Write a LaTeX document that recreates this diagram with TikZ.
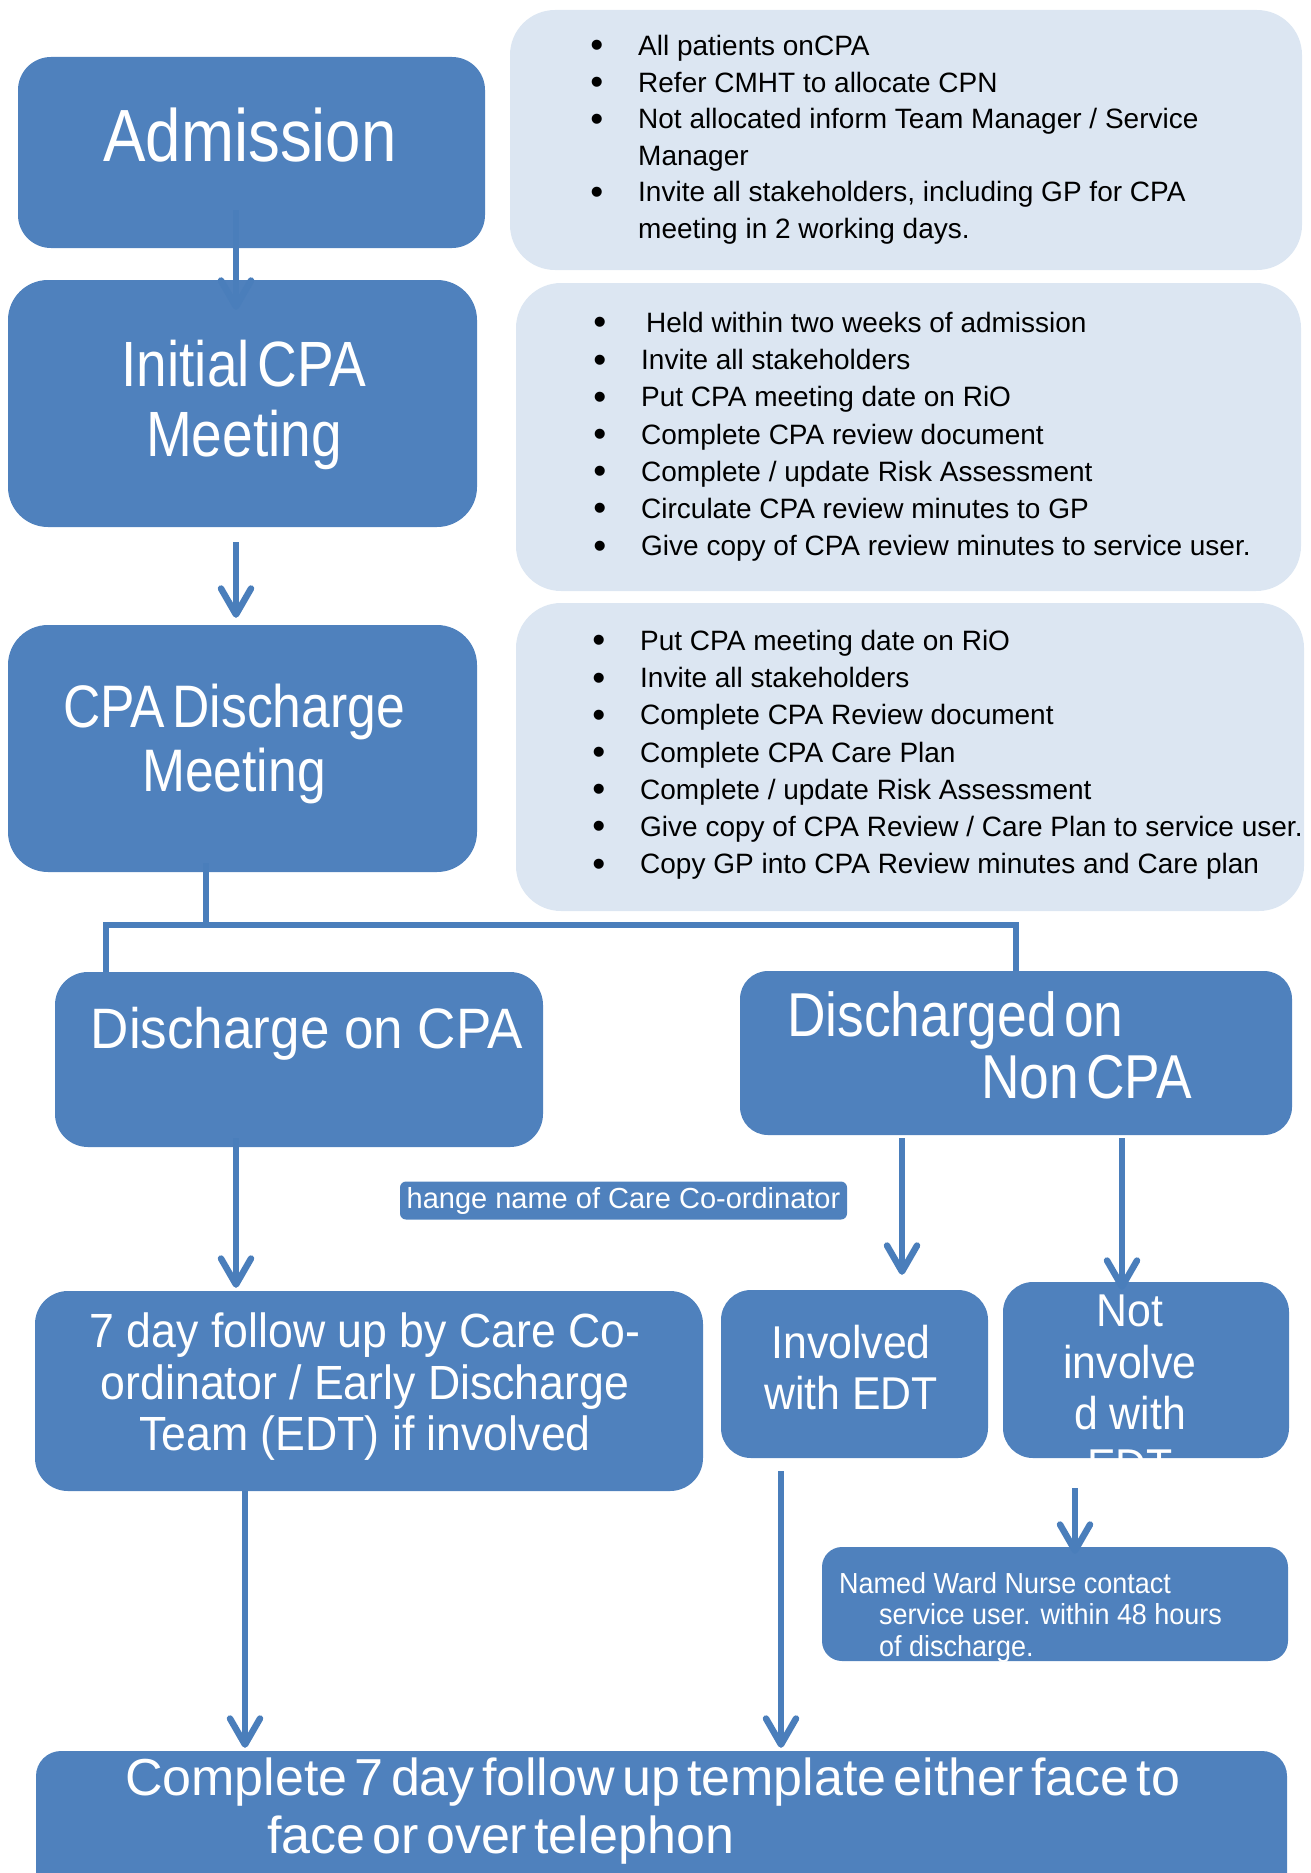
\documentclass[tikz,border=0pt]{standalone}
\usepackage{fontspec}
\setmainfont{Liberation Sans}
\newfontfamily\narrowfont{Liberation Sans}[FakeStretch=0.86,WordSpace=0.5]
\newfontfamily\slimfont{Liberation Sans}[FakeStretch=0.93]
\newfontfamily\tightfont{Liberation Sans}[WordSpace=0.5]
\usetikzlibrary{arrows.meta}
\definecolor{boxblue}{RGB}{79,129,189}
\definecolor{arrowblue}{RGB}{74,126,187}
\definecolor{paleblue}{RGB}{220,230,242}
\newcommand{\itembul}{\llap{\raisebox{-2.5pt}{\fontsize{37}{37}\selectfont\textbullet}\hspace{35pt}}}

\begin{document}
\begin{tikzpicture}[x=1pt,y=-1pt,
    bluebox/.style={fill=boxblue,rounded corners=#1,inner sep=0pt},
    bluebox/.default=30pt,
    infobox/.style={fill=paleblue,rounded corners=45pt,inner sep=0pt},
    txt/.style={text=white,inner sep=0pt,anchor=north,align=center},
    info/.style={anchor=north west,inner sep=0pt,align=left},
    arr/.style={draw=arrowblue,line width=6.5pt,-{Straight Barb[length=26pt,width=30pt,round]}},
    conn/.style={draw=arrowblue,line width=6pt}]
\useasboundingbox (0,0) rectangle (1311,1873);

% info boxes on the right
\node[infobox,minimum width=792pt,minimum height=260pt] (infoA) at (906,140) {};
\node[infobox,minimum width=785pt,minimum height=308pt] (infoB) at (908.5,437) {};
\node[infobox,minimum width=788pt,minimum height=308pt] (infoC) at (910,757) {};

% blue boxes
\node[bluebox=33pt,minimum width=467pt,minimum height=191pt] (adm) at (251.5,152.5) {};
\node[bluebox=40pt,minimum width=469pt,minimum height=247pt] (init) at (242.5,403.5) {};
\node[bluebox=40pt,minimum width=469pt,minimum height=247pt] (disc) at (242.5,748.5) {};
\node[bluebox=33pt,minimum width=488pt,minimum height=175pt] (oncpa) at (299,1059.5) {};
\node[bluebox=28pt,minimum width=552pt,minimum height=164pt] (noncpa) at (1016,1053) {};
\node[bluebox=6pt,minimum width=447pt,minimum height=38pt,text=white,
      font=\fontsize{29}{34}\selectfont] (chg) at (623.5,1200.5) {hange name of Care Co-ordinator};
\node[bluebox=33pt,minimum width=668pt,minimum height=200pt] (follow) at (369,1391) {};
\node[bluebox=30pt,minimum width=267pt,minimum height=168pt] (edt) at (854.5,1374) {};
\node[bluebox=30pt,minimum width=286pt,minimum height=176pt] (noedt) at (1146,1370) {};
\node[bluebox=20pt,minimum width=466pt,minimum height=114pt] (nurse) at (1055,1604) {};
\node[bluebox=25pt,minimum width=1251pt,minimum height=160pt] (tmpl) at (661.5,1831) {};

% connectors
\draw[arr] ([xshift=-15.5pt,yshift=38pt]adm.south) -- ([xshift=-6.5pt,yshift=-30pt]init.north);
\draw[arr] ([xshift=-6.5pt,yshift=-15pt]init.south) -- ([xshift=-6.5pt,yshift=7pt]disc.north);
\coordinate (split) at (206,924.5);
\draw[conn] ([xshift=-36.5pt,yshift=9pt]disc.south) -- (split);
\draw[conn] ([xshift=-193pt]oncpa.north) |- (split) -| (noncpa.north);
\draw[arr] ([xshift=-63pt,yshift=9pt]oncpa.south) -- ([xshift=-133pt,yshift=3pt]follow.north);
\draw[arr] ([xshift=-114pt,yshift=-3pt]noncpa.south) -- ([xshift=47.5pt,yshift=15pt]edt.north);
\draw[arr] ([xshift=106pt,yshift=-3pt]noncpa.south) -- ([xshift=-24pt,yshift=-8pt]noedt.north);
\draw[arr] ([xshift=-71pt,yshift=-30pt]noedt.south) -- ([xshift=20pt,yshift=-7pt]nurse.north);
\draw[arr] ([xshift=-124pt]follow.south) -- ([xshift=-416.5pt,yshift=3pt]tmpl.north);
\draw[arr] ([xshift=-73.5pt,yshift=-13pt]edt.south) -- ([xshift=119.5pt,yshift=3pt]tmpl.north);

% box texts
\node[txt,font=\narrowfont\fontsize{74}{80}\selectfont] (admtxt) at (250,108) {Admission};
\node[txt,font=\narrowfont\fontsize{64}{70}\selectfont] (inittxt) at (244,340) {Initial CPA\\Meeting};
\node[txt,font=\narrowfont\fontsize{60}{64}\selectfont] (disctxt) at (234,684) {CPA Discharge\\Meeting};
\node[txt,font=\slimfont\fontsize{57}{64}\selectfont] (oncpatxt) at (307,1007) {Discharge on CPA};
\node[txt,anchor=north west,align=left,font=\narrowfont\fontsize{62}{62}\selectfont] (noncpatxt) at (787,991)
    {Discharged on\\\hspace*{194pt}Non CPA};
\node[txt,font=\slimfont\fontsize{48}{52}\selectfont] (followtxt) at (365,1312)
    {7 day follow up by Care Co-\\ordinator / Early Discharge\\Team (EDT) if involved};
\node[txt,font=\slimfont\fontsize{46}{51}\selectfont] (edttxt) at (851,1325) {Involved\\with EDT};
\node[txt,font=\slimfont\fontsize{46}{51.5}\selectfont] (noedttxt) at (1130,1295) {Not\\involve\\d with\\EDT};
\node[txt,anchor=north west,align=left,font=\slimfont\fontsize{29}{31.5}\selectfont] (nursetxt) at (839,1572)
    {Named Ward Nurse contact\\\hspace*{40pt}service user. within 48 hours\\\hspace*{40pt}of discharge.};
\node[txt,anchor=north west,align=left,font=\tightfont\fontsize{52}{58}\selectfont] (tmpltxt) at (125,1758)
    {Complete 7 day follow up template either face to\\\hspace*{142pt}face or over telephon};

% bullet lists
\node[info,font=\fontsize{28}{36.6}\selectfont] (infoAtxt) at (638,35)
    {\itembul All patients onCPA\\
     \itembul Refer CMHT to allocate CPN\\
     \itembul Not allocated inform Team Manager / Service\\
     Manager\\
     \itembul Invite all stakeholders, including GP for CPA\\
     meeting in 2 working days.};
\node[info,font=\fontsize{28}{37.2}\selectfont] (infoBtxt) at (641,312)
    {\itembul\hspace*{5pt}Held within two weeks of admission\\
     \itembul Invite all stakeholders\\
     \itembul Put CPA meeting date on RiO\\
     \itembul Complete CPA review document\\
     \itembul Complete / update Risk Assessment\\
     \itembul Circulate CPA review minutes to GP\\
     \itembul Give copy of CPA review minutes to service user.};
\node[info,font=\fontsize{28}{37.2}\selectfont] (infoCtxt) at (640,630)
    {\itembul Put CPA meeting date on RiO\\
     \itembul Invite all stakeholders\\
     \itembul Complete CPA Review document\\
     \itembul Complete CPA Care Plan\\
     \itembul Complete / update Risk Assessment\\
     \itembul Give copy of CPA Review / Care Plan to service user.\\
     \itembul Copy GP into CPA Review minutes and Care plan};
\end{tikzpicture}
\end{document}
